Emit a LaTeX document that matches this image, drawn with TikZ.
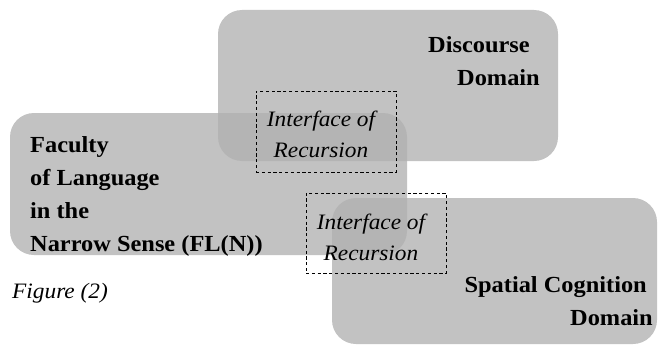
\documentclass[tikz,border=0pt]{standalone}
\usepackage{fontspec}
\setmainfont{Liberation Serif}[FakeStretch=1.06]
\begin{document}
\begin{tikzpicture}[x=1pt,y=-1pt,
  domainbox/.style={fill={rgb,255:red,177;green,177;blue,177}, fill opacity=0.79, rounded corners=24pt, draw=none},
  dashbox/.style={draw=black, line width=0.8pt, dash pattern=on 3.2pt off 2.6pt, inner sep=0pt},
  boldtxt/.style={font=\fontsize{23}{33}\selectfont\bfseries, inner sep=0pt},
  itxt/.style={font=\fontsize{22}{31}\selectfont\itshape, inner sep=0pt, align=center}
]
\useasboundingbox (0,0) rectangle (658,345);
% domains
\path[domainbox] (218,10) rectangle (558,161);
\path[domainbox] (10,113) rectangle (407,255);
\path[domainbox] (332,198) rectangle (657,344);
% texts
\node[boldtxt, align=right, anchor=east] (disc) at (540,61) {Discourse\hspace*{10pt}\\Domain};
\node[boldtxt, align=left, anchor=west] (fac) at (30,196) {Faculty\\of Language\\in the\\Narrow Sense (FL(N))};
\node[boldtxt, align=right, anchor=east] (spat) at (653,301) {Spatial Cognition\hspace*{6pt}\\Domain};
\node[font=\fontsize{22}{26}\selectfont\itshape, inner sep=0pt, anchor=west] (fig) at (12,293) {Figure (2)};
% interfaces
\node[dashbox, minimum width=140pt, minimum height=81pt] (if1box) at (326,131.5) {};
\node[itxt] (if1) at (321,134) {Interface of\\Recursion};
\node[dashbox, minimum width=140pt, minimum height=80pt] (if2box) at (376,233) {};
\node[itxt] (if2) at (371,237) {Interface of\\Recursion};
\end{tikzpicture}
\end{document}
